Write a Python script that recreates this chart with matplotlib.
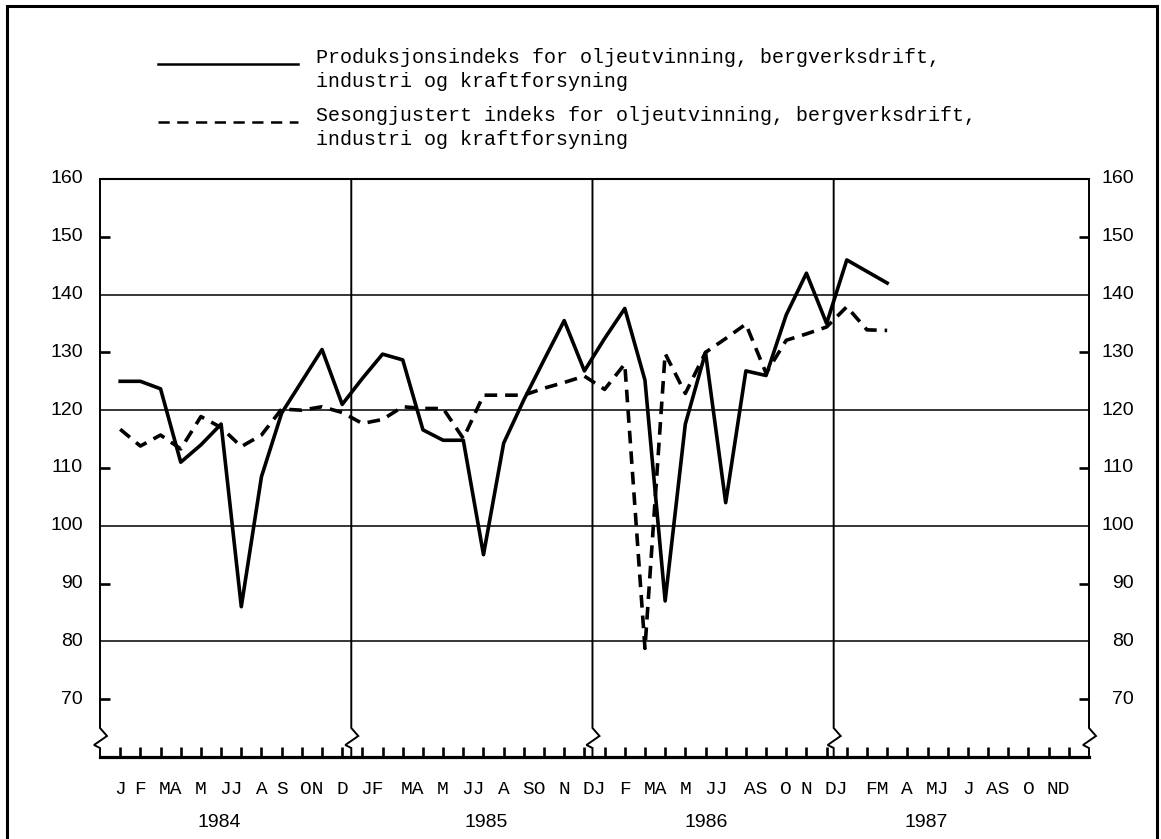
import matplotlib
matplotlib.use("Agg")
import matplotlib.pyplot as plt
from matplotlib.lines import Line2D
from matplotlib.patches import Rectangle
import numpy as np

# Produksjonsindeks (ujustert), jan 1984 - mars 1987
prod_1984 = [125, 125, 123.7, 111, 114, 117.6, 86, 108.5, 119.5, 125, 130.5, 121]
prod_1985 = [125.5, 129.7, 128.7, 116.6, 114.8, 114.8, 95, 114.3, 121.8, 128.7, 135.5, 126.8]
prod_1986 = [132.4, 137.6, 125.2, 87, 117.6, 130, 104, 126.8, 126, 136.5, 143.7, 135]
prod_1987 = [146, 144, 142]

# Sesongjustert indeks
seas_1984 = [116.7, 113.8, 115.7, 113.3, 118.9, 117, 113.7, 115.7, 120.2, 120, 120.6, 119.6]
seas_1985 = [117.7, 118.4, 120.6, 120.3, 120.3, 115.1, 122.6, 122.6, 122.6, 123.8, 124.8, 125.9]
seas_1986 = [123.6, 128.0, 78.8, 129.8, 122.9, 130, 132.4, 134.9, 126.4, 132.1, 133.2, 134.4]
seas_1987 = [137.9, 133.9, 133.8]

month_labels = ["J", "F", "MA", "M", "JJ", "A", "S", "ON", "D",
                "JF", "MA", "M", "JJ", "A", "SO", "N", "DJ",
                "F", "MA", "M", "JJ", "AS", "O", "N", "DJ",
                "FM", "A", "MJ", "J", "AS", "O", "ND"]
years = ["1984", "1985", "1986", "1987"]
year_pos = [4.9, 18.15, 29.05, 39.95]
year_bounds = [11.45, 23.4, 35.35]
y_labels = list(range(70, 161, 10))

legend_1 = ["Produksjonsindeks for oljeutvinning, bergverksdrift,",
            "industri og kraftforsyning"]
legend_2 = ["Sesongjustert indeks for oljeutvinning, bergverksdrift,",
            "industri og kraftforsyning"]

prod = np.array(prod_1984 + prod_1985 + prod_1986 + prod_1987)
seas = np.array(seas_1984 + seas_1985 + seas_1986 + seas_1987)

W, H = 1161, 839
fig = plt.figure(figsize=(W / 100, H / 100), dpi=100)
fx = lambda px: px / W
fy = lambda py: 1 - py / H

ax = fig.add_axes([fx(100), fy(757), fx(1089) - fx(100), fy(179) - fy(757)])
ax.set_xlim(-1, 48)
ax.set_ylim(60, 160)

mono = "Liberation Mono"
sans = "Liberation Sans"

# spines: only top and bottom, sides are drawn by hand with break marks
for s in ["left", "right"]:
    ax.spines[s].set_visible(False)
ax.spines["top"].set_linewidth(1.5)
ax.spines["bottom"].set_linewidth(2.3)

ax.set_xticks(range(48))
ax.set_xticklabels([])
ax.tick_params(axis="x", direction="in", length=7.5, width=1.9, bottom=True, top=False)
ax.set_yticks([70, 90, 110, 130, 150])
ax.set_yticklabels([])
ax.tick_params(axis="y", direction="in", length=7.5, width=1.9, left=True, right=True)

for g in [80, 100, 120, 140]:
    ax.axhline(g, color="black", lw=1.1, zorder=1)

# vertical lines with zigzag break near the bottom
dxp = 49 / 989
dyp = 100 / 578
def break_line(x):
    xs = [x, x, x + 7 * dxp, x - 6 * dxp, x, x]
    ys = [160, 60 + 29 * dyp, 60 + 21 * dyp, 60 + 12 * dyp, 60 + 9 * dyp, 60]
    ax.plot(xs, ys, color="black", lw=1.4, clip_on=False, zorder=2,
            solid_joinstyle="miter")

for x in [-1] + year_bounds + [48]:
    break_line(x)

months = np.arange(len(prod))
ax.plot(months, prod, color="black", lw=2.6, zorder=4)
ax.plot(np.arange(len(seas)), seas, color="black", lw=2.6, zorder=3,
        dashes=(3.5, 2.2))

# y labels both sides
ytr = ax.get_yaxis_transform()
for v in y_labels:
    ax.text(-0.0172, v, str(v), transform=ytr, ha="right", va="center",
            fontsize=14, family=sans)
    ax.text(1.0455, v, str(v), transform=ytr, ha="right", va="center",
            fontsize=14, family=sans)

# month labels, typewriter style: each letter stands for one month
xtr = ax.get_xaxis_transform()
start = 0
for lab in month_labels:
    pos = start + (len(lab) - 1) / 2
    ax.text(pos, -0.057, lab, transform=xtr, ha="center", va="center",
            fontsize=14, family=mono)
    start += len(lab)

for yr, p in zip(years, year_pos):
    ax.text(p, -0.114, yr, transform=xtr, ha="center", va="center",
            fontsize=14, family=sans)

# legend at the top
fig.add_artist(Line2D([fx(158), fx(298)], [fy(64), fy(64)], color="black", lw=1.8))
fig.add_artist(Line2D([fx(158), fx(298)], [fy(122), fy(122)], color="black", lw=1.8,
                      dashes=(4.5, 3.0)))
for txt, yb in zip(legend_1 + legend_2, [63, 87, 121, 145]):
    fig.text(fx(316), fy(yb), txt, ha="left", va="baseline", fontsize=14.4, family=mono)

# outer frame
fig.add_artist(Rectangle((fx(7), -0.05), fx(1157) - fx(7), fy(6) + 0.05,
                         transform=fig.transFigure, fill=False, lw=2.2, color="black"))

fig.savefig("out.png", dpi=100)
